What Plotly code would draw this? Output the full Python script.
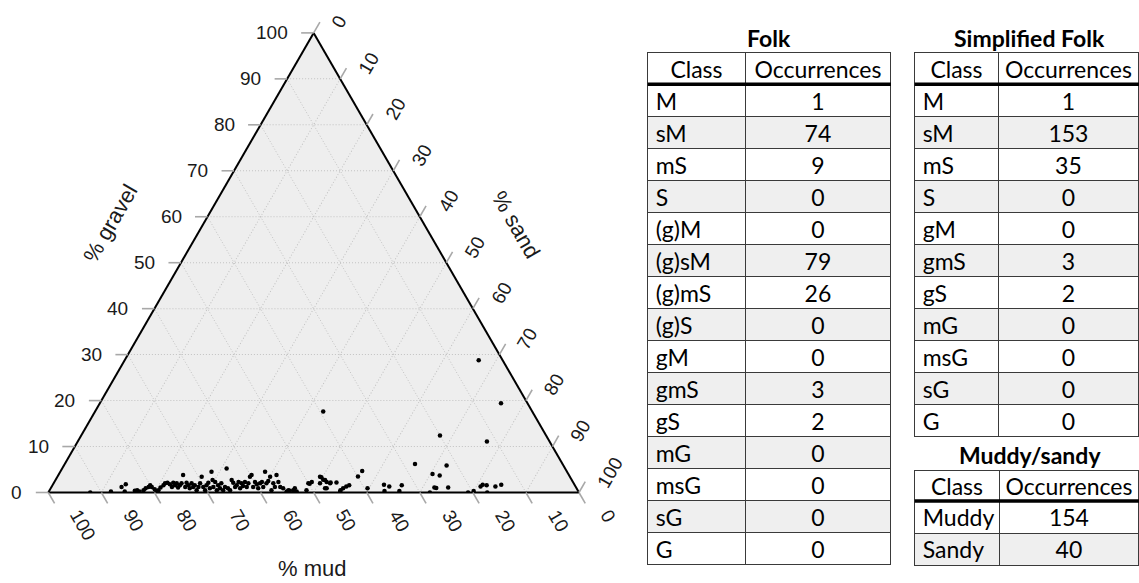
import math
import plotly.graph_objects as go

W, H = 1139, 583

# Sediment samples: % mud and % gravel (sand makes up the remainder)
mud = [92.1, 88.1, 85.6, 84.5, 85.5, 83.5, 83.0, 82.7, 81.8, 81.2, 80.5, 80.0, 79.9, 79.6, 79.5,
       79.0, 78.3, 77.5, 77.0, 76.5, 76.2, 76.1, 75.4, 75.3, 74.8, 75.0, 74.4, 73.9, 72.7, 73.6,
       72.9, 72.8, 72.9, 72.0, 72.1, 71.6, 71.8, 71.1, 70.4, 69.4, 70.2, 70.2, 69.4, 68.8, 69.1,
       67.0, 67.7, 68.3, 67.4, 68.0, 67.2, 67.2, 66.4, 66.8, 66.1, 63.8, 65.7, 65.5, 64.1, 64.1,
       64.2, 63.7, 63.0, 63.4, 62.6, 62.6, 61.8, 62.0, 61.3, 60.3, 59.8, 60.8, 59.9, 59.8, 60.0,
       59.1, 58.6, 58.9, 56.9, 57.9, 57.3, 56.5, 57.7, 56.6, 56.7, 55.1, 55.5, 55.7, 55.3, 55.0,
       54.5, 54.3, 53.6, 53.1, 51.1, 50.0, 49.2, 47.1, 46.9, 46.8, 46.5, 46.4, 45.9, 47.1,
       39.4, 5.0, 20.0, 11.8, 27.8, 22.0, 25.6, 24.4, 38.5, 39.9, 39.4, 35.9, 35.1, 32.6, 36.5,
       33.7, 26.7, 26.4, 24.1, 28.1, 20.9, 19.7, 17.9, 17.3, 16.6, 15.1, 13.8, 17.3, 4.5,
       47.8, 47.4, 45.7, 44.6, 44.7, 44.0, 43.2, 42.5, 44.9, 49.8, 53.1]
gravel = [0.0, 0.2, 1.2, 1.8, 0.2, 0.4, 0.5, 0.2, 0.5, 0.9, 1.2, 1.6, 1.2, 0.7, 0.2,
          0.5, 1.1, 1.6, 2.0, 2.1, 1.8, 1.2, 2.1, 1.6, 2.0, 1.1, 1.6, 2.0, 3.8, 1.2,
          2.1, 1.6, 0.9, 2.0, 1.2, 1.6, 0.5, 1.2, 2.0, 3.4, 1.2, 0.5, 1.6, 2.1, 0.9,
          4.5, 2.7, 1.2, 2.3, 0.5, 1.6, 0.9, 2.0, 0.5, 1.2, 5.2, 0.9, 0.5, 2.7, 2.1,
          1.2, 1.6, 2.3, 0.9, 2.0, 1.4, 2.3, 1.2, 2.0, 3.4, 3.8, 1.2, 2.3, 1.8, 0.9,
          2.0, 2.3, 1.2, 4.5, 2.0, 2.5, 3.4, 0.5, 2.0, 1.2, 3.8, 2.3, 1.2, 0.9, 0.2,
          0.5, 0.4, 0.5, 0.2, 0.5, 2.0, 2.3, 3.4, 3.3, 2.8, 2.7, 2.3, 2.0, 0.9,
          17.6, 19.4, 12.4, 11.1, 6.2, 5.9, 4.0, 3.7, 4.7, 3.5, 0.9, 1.7, 1.3, 1.6, 0.3,
          0.3, 1.1, 1.0, 1.1, 0.0, 0.0, 0.3, 1.3, 1.7, 1.6, 1.3, 1.7, 0.0, 28.8,
          2.0, 0.9, 2.2, 2.2, 0.5, 0.9, 1.3, 1.6, 0.2, 1.9, 0.9]
sand = [round(100 - m - g, 1) for m, g in zip(mud, gravel)]

tick_vals = list(range(0, 101, 10))

folk_classes = ["M", "sM", "mS", "S", "(g)M", "(g)sM", "(g)mS", "(g)S",
                "gM", "gmS", "gS", "mG", "msG", "sG", "G"]
folk_counts = [1, 74, 9, 0, 0, 79, 26, 0, 0, 3, 2, 0, 0, 0, 0]
simple_classes = ["M", "sM", "mS", "S", "gM", "gmS", "gS", "mG", "msG", "sG", "G"]
simple_counts = [1, 153, 35, 0, 0, 3, 2, 0, 0, 0, 0]
ms_classes = ["Muddy", "Sandy"]
ms_counts = [154, 40]

# ---- ternary frame geometry (pixels) ----
TRI_LEFT, TRI_RIGHT, TRI_BASE = 48.3, 579.0, 492.5
TRI_W = TRI_RIGHT - TRI_LEFT
TRI_H = TRI_W * math.sqrt(3) / 2
TRI_TOP = TRI_BASE - TRI_H


def to_px(a, b, c):
    """gravel a, mud b, sand c (percent) -> pixel position on the page."""
    x = TRI_LEFT + (c + a / 2) / 100 * TRI_W
    y = TRI_BASE - a / 100 * TRI_H
    return x, y


def paper(x, y):
    return x / W, 1 - y / H


AX_FONT = dict(family="Liberation Sans, Arial, sans-serif", size=19, color="#1a1a1a")
TITLE_FONT = dict(family="Liberation Sans, Arial, sans-serif", size=22, color="#1a1a1a")
TAB_FONT = dict(family="Lato, Calibri, sans-serif", size=23, color="black")
GRID = "#c2c2c2"
TICK_C = "#a8a8a8"


def axis_cfg():
    return dict(min=0, tickmode="array", tickvals=tick_vals, ticks="",
                showticklabels=False, showgrid=True, gridcolor=GRID,
                griddash="1px,2px", gridwidth=1, showline=True,
                linecolor="black", linewidth=2, title=dict(text=""))


fig = go.Figure()

fig.add_trace(go.Scatterternary(
    a=gravel, b=mud, c=sand, mode="markers",
    marker=dict(color="black", size=4.5, line=dict(width=0)),
    hoverinfo="skip", showlegend=False,
))

x0p, y0p = paper(TRI_LEFT, TRI_BASE)
x1p, y1p = paper(TRI_RIGHT, TRI_TOP)

shapes = []
annotations = []

# tick marks extend the grid lines outside the triangle
TICK_LEN = 12.5
S3 = math.sqrt(3) / 2
for t in tick_vals:
    specs = [
        (to_px(t, 100 - t, 0), (-1.0, 0.0)),      # gravel, left edge
        (to_px(100 - t, 0, t), (0.5, -S3)),       # sand, right edge
        (to_px(0, t, 100 - t), (0.5, S3)),        # mud, bottom edge
    ]
    for (px, py), (dx, dy) in specs:
        xa, ya = paper(px, py)
        xb, yb = paper(px + dx * TICK_LEN, py + dy * TICK_LEN)
        shapes.append(dict(type="line", xref="paper", yref="paper",
                           x0=xa, y0=ya, x1=xb, y1=yb,
                           line=dict(color=TICK_C, width=1.6)))

    lab = str(t)
    L = len(lab) * 0.556 * AX_FONT["size"]

    # gravel labels: horizontal, right-aligned
    gx, gy = to_px(t, 100 - t, 0)
    xa, ya = paper(gx - 24, gy)
    annotations.append(dict(x=xa, y=ya, xref="paper", yref="paper", text=lab,
                            showarrow=False, xanchor="right", yanchor="middle",
                            font=AX_FONT))

    # sand labels: rotated up-right
    sx, sy = to_px(100 - t, 0, t)
    cx = sx + 23 + L / 2 * 0.5
    cy = sy - 6.5 - L / 2 * S3
    xa, ya = paper(cx, cy)
    annotations.append(dict(x=xa, y=ya, xref="paper", yref="paper", text=lab,
                            showarrow=False, xanchor="center", yanchor="middle",
                            textangle=-60, font=AX_FONT))

    # mud labels: rotated down-right
    mx, my = to_px(0, t, 100 - t)
    cx = mx + 27 + L / 2 * 0.5
    cy = my + 19 + L / 2 * S3
    xa, ya = paper(cx, cy)
    annotations.append(dict(x=xa, y=ya, xref="paper", yref="paper", text=lab,
                            showarrow=False, xanchor="center", yanchor="middle",
                            textangle=60, font=AX_FONT))

# axis titles
for text, (px, py), ang in [("% gravel", (110, 223), -60),
                            ("% sand", (516, 224), 60),
                            ("% mud", (312, 568), 0)]:
    xa, ya = paper(px, py)
    annotations.append(dict(x=xa, y=ya, xref="paper", yref="paper", text=text,
                            showarrow=False, xanchor="center", yanchor="middle",
                            textangle=ang, font=TITLE_FONT))

# ---- class tables ----
ROW_H = 32
ZEBRA = ["white", "#efefef"]
LINE = dict(color="#3a3a3a", width=1)
TABLE_RIGHT_EDGE = 1145  # the right-hand tables run past the page edge


def add_table(title, classes, counts, x_left, x_mid, x_right, top, title_y, head_h=ROW_H):
    n = len(classes)
    bottom = top + head_h + n * ROW_H + 3
    fills = [ZEBRA[i % 2] for i in range(n)]
    fig.add_trace(go.Table(
        domain=dict(x=[x_left / W, min(x_right, W) / W], y=[1 - bottom / H, 1 - top / H]),
        columnwidth=[x_mid - x_left, min(x_right, W) - x_mid],
        header=dict(values=["Class", "Occurrences"], height=head_h, align="center",
                    fill_color="white", line=LINE, font=TAB_FONT),
        cells=dict(values=[classes, counts], height=ROW_H, align=["left", "center"],
                   fill_color=[fills, fills], line=LINE, font=TAB_FONT),
    ))
    yl = 1 - (top + head_h) / H
    shapes.append(dict(type="line", xref="paper", yref="paper",
                       x0=x_left / W, x1=min(x_right, W) / W, y0=yl, y1=yl,
                       line=dict(color="black", width=3.5)))
    annotations.append(dict(x=(x_left + x_right) / 2 / W,
                            y=1 - title_y / H, xref="paper", yref="paper",
                            text="<b>" + title + "</b>", showarrow=False,
                            xanchor="center", yanchor="middle", font=TAB_FONT))


add_table("Folk", folk_classes, folk_counts, 647.7, 745.3, 891.0, 52.3, 37.7)
add_table("Simplified Folk", simple_classes, simple_counts, 914.7, 998.3,
          TABLE_RIGHT_EDGE, 52.3, 37.7)
add_table("Muddy/sandy", ms_classes, ms_counts, 914.7, 999.3,
          TABLE_RIGHT_EDGE, 470.0, 455.0, head_h=31)

fig.update_layout(
    width=W, height=H,
    margin=dict(l=0, r=0, t=0, b=0),
    paper_bgcolor="white",
    ternary=dict(
        sum=100,
        bgcolor="#eeeeee",
        domain=dict(x=[x0p, x1p], y=[y0p, y1p]),
        aaxis=axis_cfg(), baxis=axis_cfg(), caxis=axis_cfg(),
    ),
    shapes=shapes,
    annotations=annotations,
    showlegend=False,
)

fig.write_html("out.html")
